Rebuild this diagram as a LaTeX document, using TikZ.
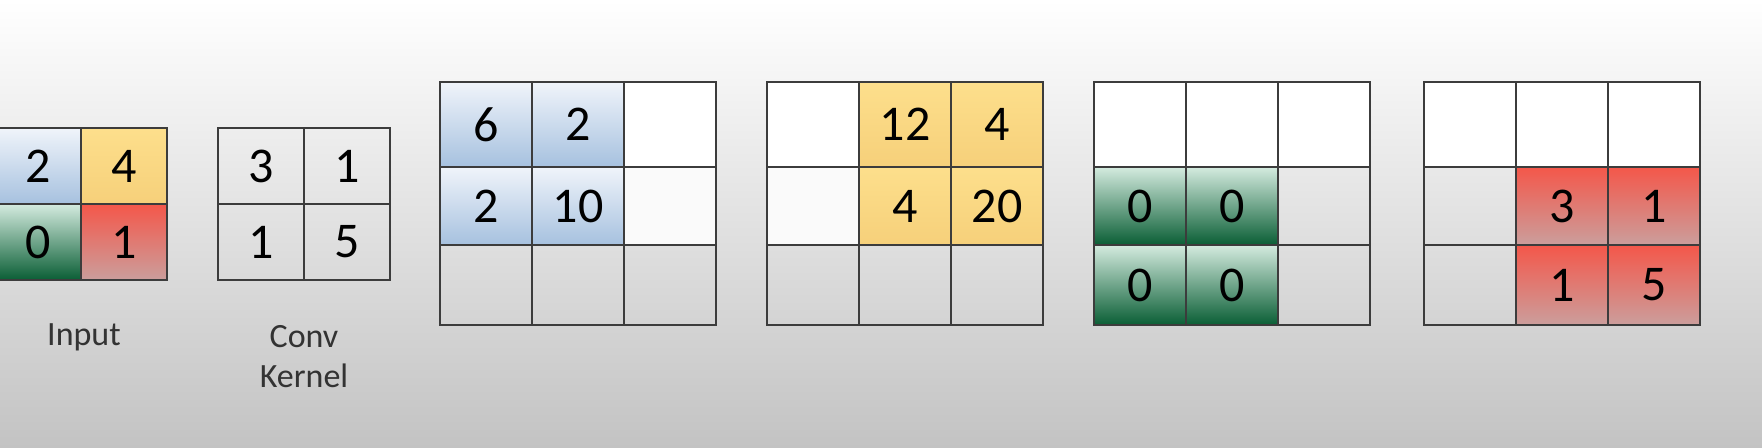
\documentclass[tikz,border=0pt]{standalone}
\usepackage{fontspec}
\setmainfont{Carlito}

\definecolor{gridline}{HTML}{3C3C3C}
\definecolor{bgMid}{HTML}{E9E9E9}
\definecolor{bgBot}{HTML}{C3C3C3}
\definecolor{blueTop}{HTML}{F0F4FA}
\definecolor{blueBot}{HTML}{A6C1DF}
\definecolor{yellowTop}{HTML}{FDDF8C}
\definecolor{yellowBot}{HTML}{F6D07A}
\definecolor{greenTop}{HTML}{D4EBDF}
\definecolor{greenMid}{HTML}{7CB996}
\definecolor{greenBot}{HTML}{0A5E35}
\definecolor{redTop}{HTML}{F4574A}
\definecolor{redMid}{HTML}{E57A70}
\definecolor{redBot}{HTML}{CB9E9C}

\begin{document}
\begin{tikzpicture}[
        x=0.5pt, y=-0.5pt,
        cell/.style={rectangle, draw=gridline, line width=1pt, minimum width=46pt, minimum height=40pt, inner sep=0pt, font=\fontsize{25}{30}\selectfont},
        rowone/.style={cell, minimum height=42.5pt},
        rowtwo/.style={cell, minimum height=39pt},
        small/.style={cell, minimum width=43pt, minimum height=38pt},
        bluecell/.style={top color=blueTop, bottom color=blueBot},
        yellowcell/.style={top color=yellowTop, bottom color=yellowBot},
        greencell/.style={top color=greenTop, middle color=greenMid, bottom color=greenBot},
        redcell/.style={top color=redTop, middle color=redMid, bottom color=redBot},
        caption/.style={font=\fontsize{17}{20}\selectfont, align=center, text=black!80}
    ]
        % Background
        \clip (0,0) rectangle (1762,448);
        \fill[top color=white, middle color=bgMid, bottom color=bgBot] (0,0) rectangle (1762,448);

        % Input
        \node[small, bluecell] (in11) at (38,166) {2};
        \node[small, yellowcell] (in12) at (124,166) {4};
        \node[small, greencell] (in21) at (38,242) {0};
        \node[small, redcell] (in22) at (124,242) {1};
        \node[caption] (input) at (84,337) {Input};

        % Conv Kernel
        \node[small] (k11) at (261,166) {3};
        \node[small] (k12) at (347,166) {1};
        \node[small] (k21) at (261,242) {1};
        \node[small] (k22) at (347,242) {5};
        \node[caption] (kernel) at (304,357) {Conv\\Kernel};

        % Step 1: top left
        \node[rowone, bluecell] (a11) at (486,124.5) {6};
        \node[rowone, bluecell] (a12) at (578,124.5) {2};
        \node[rowone, fill=white] (a13) at (670,124.5) {};
        \node[rowtwo, bluecell] (a21) at (486,206) {2};
        \node[rowtwo, bluecell] (a22) at (578,206) {10};
        \node[rowtwo, fill=white!96!gray] (a23) at (670,206) {};
        \node[cell] (a31) at (486,285) {};
        \node[cell] (a32) at (578,285) {};
        \node[cell] (a33) at (670,285) {};

        % Step 2: top right
        \node[rowone, fill=white] (b11) at (813,124.5) {};
        \node[rowone, yellowcell] (b12) at (905,124.5) {12};
        \node[rowone, yellowcell] (b13) at (997,124.5) {4};
        \node[rowtwo, fill=white!96!gray] (b21) at (813,206) {};
        \node[rowtwo, yellowcell] (b22) at (905,206) {4};
        \node[rowtwo, yellowcell] (b23) at (997,206) {20};
        \node[cell] (b31) at (813,285) {};
        \node[cell] (b32) at (905,285) {};
        \node[cell] (b33) at (997,285) {};

        % Step 3: bottom left
        \node[rowone, fill=white] (c11) at (1140,124.5) {};
        \node[rowone, fill=white] (c12) at (1232,124.5) {};
        \node[rowone, fill=white] (c13) at (1324,124.5) {};
        \node[rowtwo, greencell] (c21) at (1140,206) {0};
        \node[rowtwo, greencell] (c22) at (1232,206) {0};
        \node[rowtwo] (c23) at (1324,206) {};
        \node[cell, greencell] (c31) at (1140,285) {0};
        \node[cell, greencell] (c32) at (1232,285) {0};
        \node[cell] (c33) at (1324,285) {};

        % Step 4: bottom right
        \node[rowone, fill=white] (d11) at (1470,124.5) {};
        \node[rowone, fill=white] (d12) at (1562,124.5) {};
        \node[rowone, fill=white] (d13) at (1654,124.5) {};
        \node[rowtwo] (d21) at (1470,206) {};
        \node[rowtwo, redcell] (d22) at (1562,206) {3};
        \node[rowtwo, redcell] (d23) at (1654,206) {1};
        \node[cell] (d31) at (1470,285) {};
        \node[cell, redcell] (d32) at (1562,285) {1};
        \node[cell, redcell] (d33) at (1654,285) {5};
    \end{tikzpicture}
\end{document}
